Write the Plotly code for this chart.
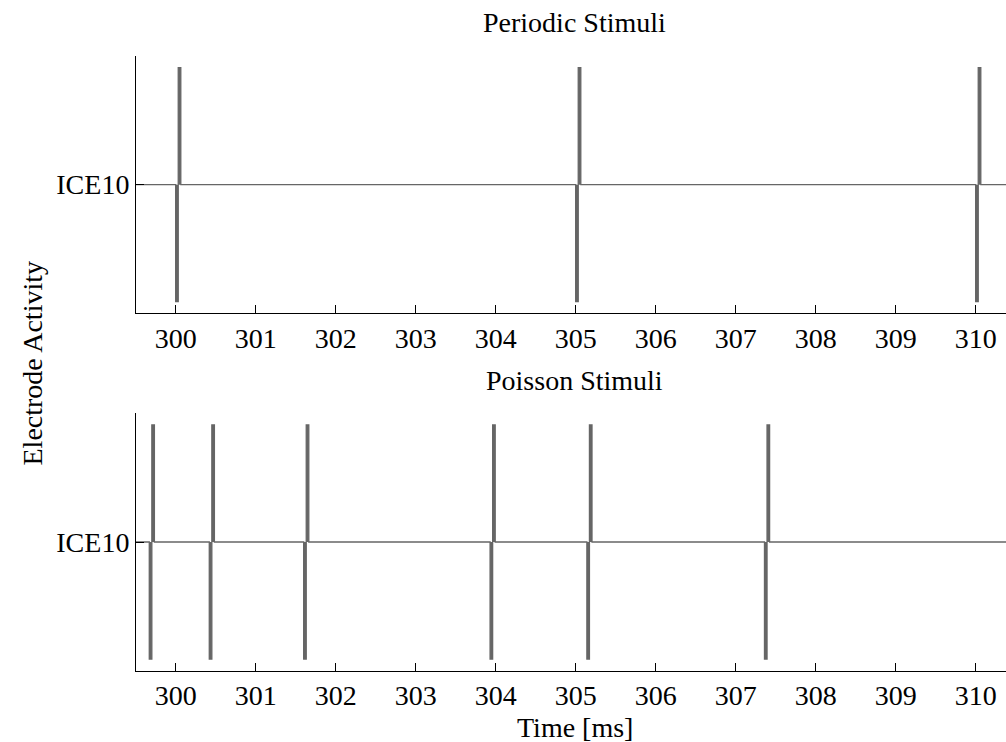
import plotly.graph_objects as go
from plotly.subplots import make_subplots

# ---- data ----
periodic_onsets = [300.0, 305.0, 310.0]          # ms
poisson_onsets = [299.67, 300.42, 301.60, 303.93, 305.14, 307.36]  # ms
phase_width = 0.032                                # ms per phase
amplitude = 1.0
tick_vals = [300, 301, 302, 303, 304, 305, 306, 307, 308, 309, 310]
tick_text = [str(v) for v in tick_vals]
electrode_label = "ICE10"
x_range = [299.504, 310.379]

W, H = 1006, 742
FONT = "Liberation Serif"
GRAY = "rgb(102,102,102)"


def waveform(onsets):
    xs, ys = [x_range[0]], [0.0]
    for t in onsets:
        xs += [t, t, t + phase_width, t + phase_width, t + 2 * phase_width, t + 2 * phase_width]
        ys += [0.0, -amplitude, -amplitude, amplitude, amplitude, 0.0]
    xs.append(x_range[1])
    ys.append(0.0)
    return xs, ys


fig = make_subplots(rows=2, cols=1)

for i, onsets in enumerate([periodic_onsets, poisson_onsets], start=1):
    xs, ys = waveform(onsets)
    fig.add_trace(go.Scatter(x=xs, y=ys, mode="lines", fill="tozeroy",
                             fillcolor=GRAY,
                             line=dict(color=GRAY, width=1.3, shape="linear"),
                             showlegend=False, hoverinfo="skip"), row=i, col=1)


def py(pix):
    return 1 - pix / H


xdom = [136 / W, 1.0]
ydoms = [[py(313.3), py(56.0)], [py(670.7), py(413.3)]]

axis_common = dict(showgrid=False, zeroline=False, showline=True, linecolor="black",
                   linewidth=1, ticks="inside", ticklen=8, tickwidth=1, tickcolor="black",
                   tickfont=dict(family=FONT, size=28, color="black"))

for i in range(2):
    xa = "xaxis" if i == 0 else "xaxis2"
    ya = "yaxis" if i == 0 else "yaxis2"
    fig.layout[xa].update(domain=xdom, range=x_range, tickvals=tick_vals, ticktext=tick_text,
                          **axis_common)
    fig.layout[ya].update(domain=ydoms[i], range=[-1.1, 1.1], tickvals=[0],
                          ticktext=[electrode_label], **axis_common)

ann_font = dict(family=FONT, size=28, color="black")
fig.update_layout(
    width=W, height=H,
    margin=dict(l=0, r=0, t=0, b=0),
    paper_bgcolor="white", plot_bgcolor="white",
    annotations=[
        dict(text="Periodic Stimuli", x=574.5 / W, y=py(22.5), xref="paper", yref="paper",
             xanchor="center", yanchor="middle", showarrow=False, font=ann_font),
        dict(text="Poisson Stimuli", x=574.5 / W, y=py(380.0), xref="paper", yref="paper",
             xanchor="center", yanchor="middle", showarrow=False, font=ann_font),
        dict(text="Time [ms]", x=575.4 / W, y=py(727.0), xref="paper", yref="paper",
             xanchor="center", yanchor="middle", showarrow=False, font=ann_font),
        dict(text="Electrode Activity", x=31.5 / W, y=py(363.0), xref="paper", yref="paper",
             xanchor="center", yanchor="middle", showarrow=False, textangle=-90, font=ann_font),
    ],
)

fig.write_html("out.html")
